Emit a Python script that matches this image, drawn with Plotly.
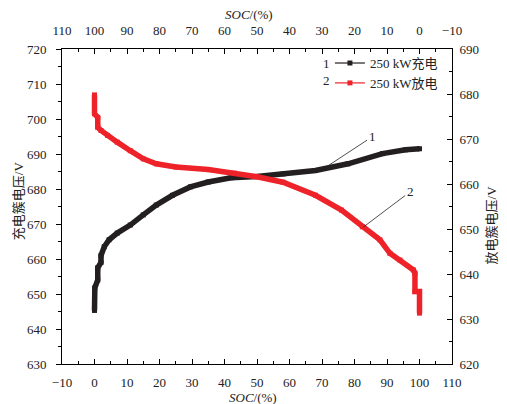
import plotly.graph_objects as go

# Charging curve (250 kW): SOC (%) vs cluster voltage (V), left/bottom axes
charge_soc = [0, 0, 0.1, 1, 1, 2, 2, 3, 4.5, 7, 11, 15, 19, 24, 29.5, 35, 42,
              50, 58, 68, 78, 88.6, 95.7, 100]
charge_v = [645.3, 649.5, 651.8, 654, 657.5, 659, 661, 663.5, 665.5, 667.4,
            669.7, 672.6, 675.4, 678.2, 680.6, 682, 683.2, 683.6, 684.3,
            685.3, 687.2, 690.1, 691.2, 691.5]

# Discharging curve (250 kW): SOC (%) vs cluster voltage (V), right/top axes
discharge_soc = [100, 100, 100, 99, 99, 98, 96, 93, 89, 85, 81, 75, 65, 57,
                 50, 42, 32, 24, 17.6, 12.2, 9.1, 6, 1.9, 1.4, 1.4, 0, 0]
discharge_v = [679.8, 677.4, 675.6, 674.8, 672.6, 671.9, 670.8, 669.3, 667.4,
               665.6, 664.5, 663.8, 663.2, 662.4, 661.6, 660.4, 657.5, 654.2,
               650.5, 647.6, 644.6, 643.1, 640.9, 640.2, 636.1, 636.1, 631.3]

series_names = ["250 kW充电", "250 kW放电"]
series_colors = ["#231f20", "#ee2229"]

FONT = "Liberation Serif, Times New Roman, Noto Sans CJK SC, serif"
TXT = "#222222"

fig = go.Figure()
fig.add_trace(go.Scatter(
    x=charge_soc, y=charge_v, name=series_names[0], mode="lines+markers",
    line=dict(color=series_colors[0], width=5.5),
    marker=dict(symbol="square", size=5, color=series_colors[0]),
    xaxis="x", yaxis="y", showlegend=False))
fig.add_trace(go.Scatter(
    x=discharge_soc, y=discharge_v, name=series_names[1], mode="lines+markers",
    line=dict(color=series_colors[1], width=5.5),
    marker=dict(symbol="square", size=5, color=series_colors[1]),
    xaxis="x2", yaxis="y2", showlegend=False))

# legend entries drawn with a thin line and a small square, as in the key
for name, color, xa, ya in zip(series_names, series_colors, ["x", "x2"], ["y", "y2"]):
    fig.add_trace(go.Scatter(
        x=[None], y=[None], name=name, mode="lines+markers",
        line=dict(color=color, width=1.2),
        marker=dict(symbol="square", size=5, color=color),
        xaxis=xa, yaxis=ya, showlegend=True))

axis_common = dict(showline=True, linecolor="black", linewidth=1,
                   showgrid=False, zeroline=False, dtick=10, ticklen=5,
                   tickcolor="black", tickfont=dict(family=FONT, size=13, color=TXT))

fig.update_layout(
    width=507, height=404,
    margin=dict(l=62, r=55, t=49, b=40),
    paper_bgcolor="white", plot_bgcolor="white",
    font=dict(family=FONT, size=13, color=TXT),
    showlegend=True,
    legend=dict(x=0.687, y=1.003, xanchor="left", yanchor="top",
                bgcolor="rgba(0,0,0,0)", font=dict(family=FONT, size=13, color=TXT),
                tracegroupgap=0),
    xaxis=dict(range=[-10, 110], ticks="inside", ticklabelstandoff=6,
               minor=dict(dtick=5, ticks="inside", ticklen=3, tickcolor="black"),
               **axis_common),
    xaxis2=dict(range=[110, -10], side="top", overlaying="x", anchor="y2",
                ticks="inside", ticklabelstandoff=8,
                minor=dict(dtick=5, ticks="inside", ticklen=3, tickcolor="black"),
                **axis_common),
    yaxis=dict(range=[630, 720], ticks="outside", ticklabelstandoff=7,
               minor=dict(dtick=5, ticks="outside", ticklen=3, tickcolor="black"),
               **axis_common),
    yaxis2=dict(range=[620, 690], side="right", overlaying="y", anchor="x",
                ticks="inside", ticklabelstandoff=4,
                minor=dict(dtick=5, ticks="inside", ticklen=3, tickcolor="black"),
                **axis_common),
)

ann = [
    # axis titles
    dict(text="<i>SOC</i>/(%)", xref="paper", yref="paper", x=0.49, y=-0.105,
         xanchor="center", yanchor="middle", showarrow=False, font=dict(size=13)),
    dict(text="<i>SOC</i>/(%)", xref="paper", yref="paper", x=0.479, y=1.11,
         xanchor="center", yanchor="middle", showarrow=False, font=dict(size=13)),
    dict(text="充电簇电压/V", xref="paper", yref="paper", x=-0.113, y=0.52,
         xanchor="center", yanchor="middle", textangle=-90, showarrow=False,
         font=dict(size=13)),
    dict(text="放电簇电压/V", xref="paper", yref="paper", x=1.1, y=0.44,
         xanchor="center", yanchor="middle", textangle=-90, showarrow=False,
         font=dict(size=13)),
    # legend numbering
    dict(text="1", xref="paper", yref="paper", x=0.677, y=0.955,
         xanchor="center", yanchor="middle", showarrow=False, font=dict(size=13)),
    dict(text="2", xref="paper", yref="paper", x=0.677, y=0.9,
         xanchor="center", yanchor="middle", showarrow=False, font=dict(size=13)),
    # curve callouts
    dict(text="1", x=70.5, y=685.8, xref="x", yref="y", ax=85.4, ay=694.9,
         axref="x", ayref="y", showarrow=True, arrowhead=0, arrowwidth=0.8,
         arrowcolor="#222", font=dict(size=13)),
    dict(text="2", x=82.7, y=669.1, xref="x", yref="y", ax=97.1, ay=679.2,
         axref="x", ayref="y", showarrow=True, arrowhead=0, arrowwidth=0.8,
         arrowcolor="#222", font=dict(size=13)),
]
fig.update_layout(annotations=ann)

fig.write_html("out.html")
